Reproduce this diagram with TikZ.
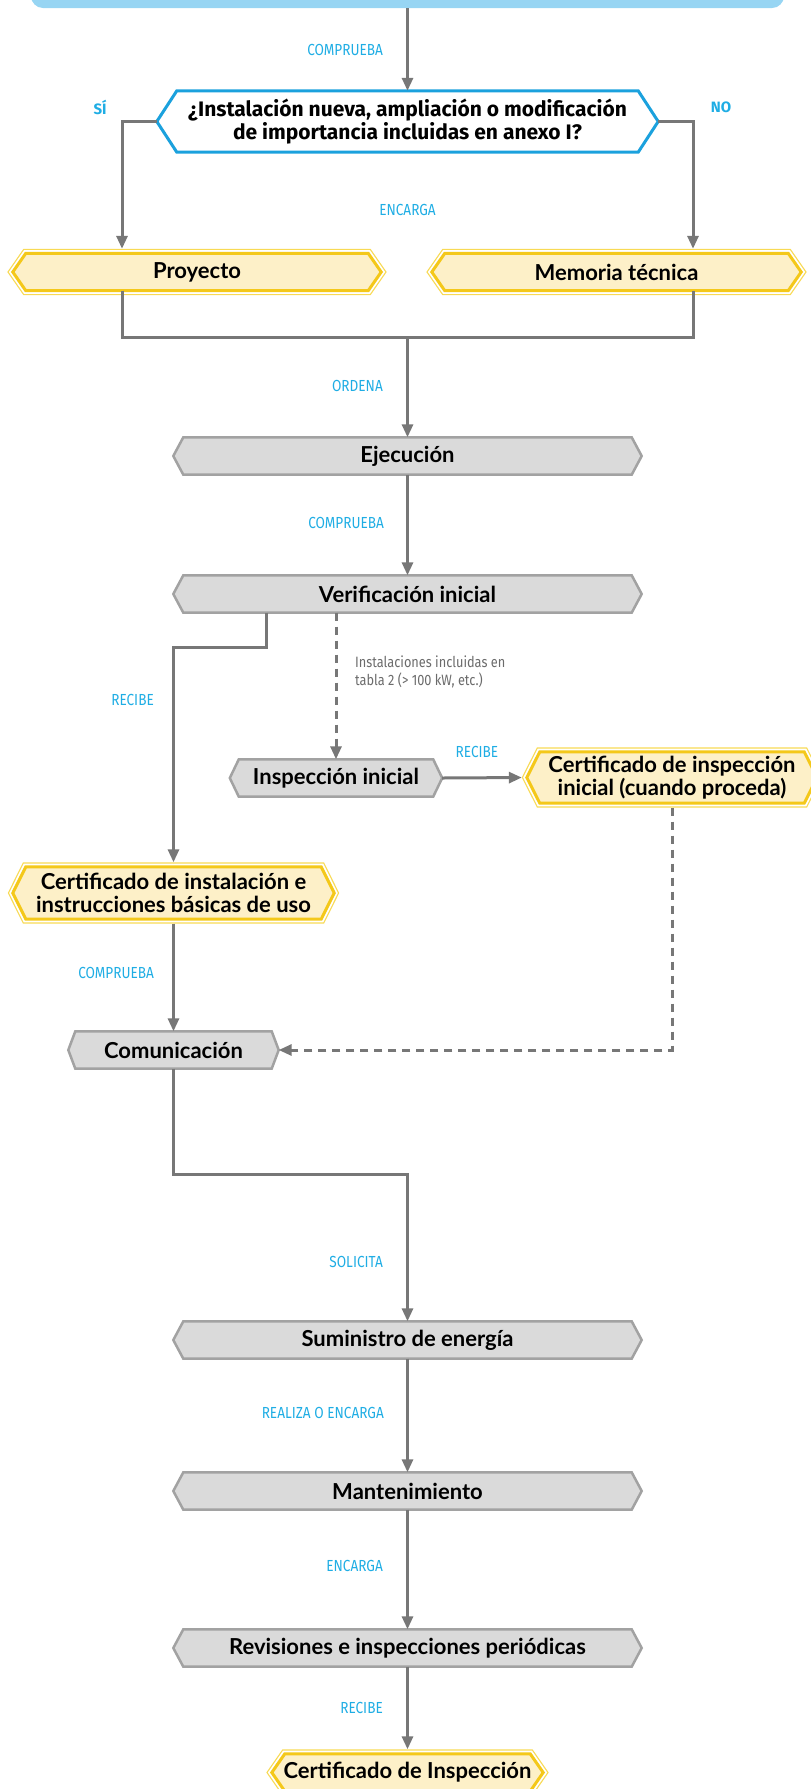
\documentclass[tikz,border=0pt]{standalone}
\usepackage{fontspec}
\usetikzlibrary{arrows.meta,backgrounds}
\newfontfamily\nodefont{Lato}
\newfontfamily\labfont{Fira Sans}[FakeStretch=0.85]
\newfontfamily\sinofont{Fira Sans}
\definecolor{topblue}{HTML}{97D5F3}
\definecolor{qblue}{HTML}{1BA1DD}
\definecolor{lcyan}{HTML}{1FADE4}
\definecolor{lgray}{HTML}{777777}
\definecolor{gfill}{HTML}{DADADA}
\definecolor{gstroke}{HTML}{A2A2A2}
\definecolor{yfill}{HTML}{FDF0C8}
\definecolor{ythick}{HTML}{F4C81A}
\definecolor{ythin}{HTML}{F8DA55}
\definecolor{notegray}{HTML}{6B6B6B}
\newcommand\hexbg[3]{\path[#3] (#1.west) -- ([xshift=#2pt]#1.north west) -- ([xshift=-#2pt]#1.north east) -- (#1.east) -- ([xshift=-#2pt]#1.south east) -- ([xshift=#2pt]#1.south west) -- cycle;}
\tikzset{
  box/.style={rectangle, inner sep=0pt, align=center, text=black,
    font=\nodefont\bfseries\fontsize{22}{23}\selectfont},
  grayhex/.style={fill=gfill, draw=gstroke, line width=2.5pt, line join=miter},
  yelhex/.style={fill=yfill, draw=ythick, line width=3pt,
    preaction={draw=ythin, line width=9pt},
    preaction={draw=white, line width=6.5pt}},
  bluehex/.style={fill=white, draw=qblue, line width=3pt},
  conn/.style={draw=lgray, line width=3pt},
  arr/.style={conn, -{Triangle[length=13pt,width=11pt]}},
  dashline/.style={dash pattern=on 8pt off 6pt},
  lab/.style={text=lcyan, inner sep=0pt, font=\labfont\fontsize{16}{17}\selectfont},
  sino/.style={text=lcyan, inner sep=0pt, font=\sinofont\bfseries\fontsize{15}{16}\selectfont},
}
\begin{document}
\begin{tikzpicture}[x=1pt,y=-1pt]
\useasboundingbox (0,0) rectangle (811,1789);
\clip (0,0) rectangle (811,1789);
% top box
\node[rectangle, fill=topblue, rounded corners=12pt, minimum width=753pt, minimum height=40pt, inner sep=0pt] (top) at (407.5,-12) {};
% nodes
\node[box, font=\sinofont\bfseries\fontsize{21}{19.5}\selectfont, minimum width=501pt, minimum height=61pt] (dec) at (407.5,121.5) {¿Instalación nueva, ampliación o modificación\\de importancia incluidas en anexo I?};
\node[box, minimum width=368pt, minimum height=37pt] (proy) at (197,272) {Proyecto};
\node[box, minimum width=369pt, minimum height=37pt] (memo) at (616.5,272) {Memoria técnica};
\node[box, minimum width=468pt, minimum height=37pt] (ejec) at (407.5,456) {Ejecución};
\node[box, minimum width=468pt, minimum height=37pt] (verif) at (407.5,594) {Verificación inicial};
\node[box, minimum width=212pt, minimum height=37pt] (insp) at (336,778) {Inspección inicial};
\node[box, minimum width=290pt, minimum height=51pt] (cii) at (672,777.5) {Certificado de inspección\\inicial (cuando proceda)};
\node[box, minimum width=321pt, minimum height=52pt] (cinst) at (173.5,893) {Certificado de instalación e\\instrucciones básicas de uso};
\node[box, minimum width=210pt, minimum height=37pt] (comu) at (173.5,1050) {Comunicación};
\node[box, minimum width=468pt, minimum height=37pt] (sumi) at (407.5,1340) {Suministro de energía};
\node[box, minimum width=468pt, minimum height=37pt] (mant) at (407.5,1491) {Mantenimiento};
\node[box, minimum width=468pt, minimum height=37pt] (rev) at (407.5,1648) {Revisiones e inspecciones periódicas};
\node[box, minimum width=271pt, minimum height=37pt] (cins) at (407.5,1772.5) {Certificado de Inspección};
\begin{scope}[on background layer]
  \hexbg{dec}{20}{bluehex}
  \hexbg{proy}{13}{yelhex}
  \hexbg{memo}{13}{yelhex}
  \hexbg{ejec}{10}{grayhex}
  \hexbg{verif}{10}{grayhex}
  \hexbg{insp}{9}{grayhex}
  \hexbg{cii}{13}{yelhex}
  \hexbg{cinst}{13}{yelhex}
  \hexbg{comu}{7}{grayhex}
  \hexbg{sumi}{10}{grayhex}
  \hexbg{mant}{10}{grayhex}
  \hexbg{rev}{10}{grayhex}
  \hexbg{cins}{13}{yelhex}
\end{scope}
% helper coordinates
\coordinate (pl) at (122,0);
\coordinate (pr) at (693,0);
\coordinate (j) at (407.5,337);
\coordinate (vb) at (266,647);
\coordinate (c2) at (407.5,1174);
% connectors
\draw[arr] (top.south) -- (dec.north);
\draw[arr, shorten >=4.5pt] (dec.west) -| (proy.north -| pl);
\draw[arr, shorten >=4.5pt] (dec.east) -| (memo.north -| pr);
\draw[conn, line join=miter] (proy.south -| pl) |- (j) -| (memo.south -| pr);
\draw[arr] (j) -- (ejec.north);
\draw[arr] (ejec.south) -- (verif.north);
\draw[arr, shorten >=4.5pt] (verif.south -| vb) -- (vb) -| (cinst.north);
\draw[arr, dashline] (verif.south -| insp.north) -- (insp.north);
\draw[arr, shorten >=5pt] (insp.east) -- (cii.west);
\draw[arr, dashline, shorten <=4.5pt] (cii.south) |- (comu.east);
\draw[arr, shorten <=4.5pt] (cinst.south) -- (comu.north);
\draw[arr] (comu.south) |- (c2) -- (sumi.north);
\draw[arr] (sumi.south) -- (mant.north);
\draw[arr] (mant.south) -- (rev.north);
\draw[arr, shorten >=4.5pt] (rev.south) -- (cins.north);
% labels
\node[lab, anchor=east] (l1) at (383,50) {COMPRUEBA};
\node[sino] (lsi) at (100,107) {SÍ};
\node[sino] (lno) at (721,107) {NO};
\node[lab] (l2) at (407.5,210) {ENCARGA};
\node[lab, anchor=east] (l3) at (383,386) {ORDENA};
\node[lab, anchor=east] (l4) at (384,523) {COMPRUEBA};
\node[lab, anchor=east] (l5) at (154,700) {RECIBE};
\node[anchor=west, align=left, inner sep=0pt, text=notegray, font=\labfont\fontsize{15}{18}\selectfont] (note) at (355,672) {Instalaciones incluidas en\\tabla 2 (> 100 kW, etc.)};
\node[lab] (l6) at (477,752) {RECIBE};
\node[lab, anchor=east] (l7) at (154,973) {COMPRUEBA};
\node[lab, anchor=east] (l8) at (383,1262) {SOLICITA};
\node[lab, anchor=east] (l9) at (384,1413) {REALIZA O ENCARGA};
\node[lab, anchor=east] (l10) at (383,1566) {ENCARGA};
\node[lab, anchor=east] (l11) at (383,1708) {RECIBE};
\end{tikzpicture}
\end{document}
